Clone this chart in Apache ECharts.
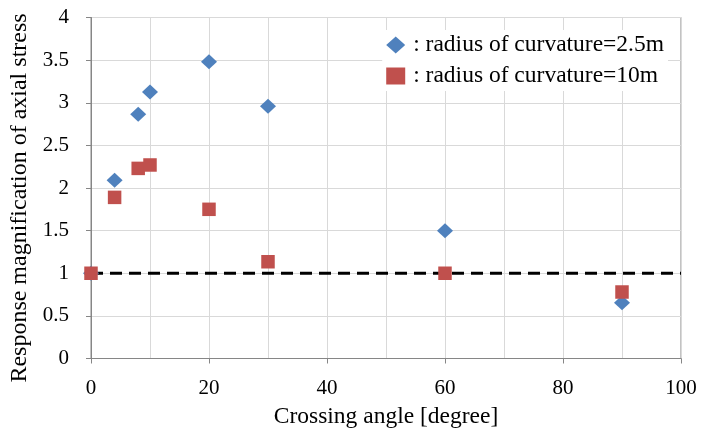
<!DOCTYPE html>
<html><head><meta charset="utf-8">
<script src="https://cdn.jsdelivr.net/npm/echarts@6/dist/echarts.min.js"></script>
<style>html,body{margin:0;padding:0;background:#fff}#c{width:701px;height:432px}</style>
</head><body><div id="c"></div>
<script>
const angles = [0, 4, 8, 10, 20, 30, 60, 90];
const r25 = [1.0, 2.09, 2.865, 3.125, 3.48, 2.96, 1.5, 0.655];
const r10 = [1.0, 1.89, 2.23, 2.27, 1.75, 1.135, 1.0, 0.78];
const refX = [0, 100];
const refY = [1, 1];
const name25 = ': radius of curvature=2.5m';
const name10 = ': radius of curvature=10m';
const font = 'Liberation Serif';
const chart = echarts.init(document.getElementById('c'));
chart.setOption({
  animation: false,
  backgroundColor: '#fff',
  grid: {left: 91, right: 20, top: 17.5, bottom: 73.5, show: true, borderColor: '#868686', borderWidth: 1,
         containLabel: false, outerBoundsMode: 'none'},
  xAxis: {
    type: 'value', min: 0, max: 100, interval: 20,
    name: 'Crossing angle [degree]', nameLocation: 'middle', nameGap: 46,
    nameTextStyle: {fontFamily: font, fontSize: 23.5, color: '#000'},
    axisLine: {lineStyle: {color: '#868686'}},
    axisTick: {show: true, length: 5, lineStyle: {color: '#868686'}},
    axisLabel: {fontFamily: font, fontSize: 21, color: '#000', margin: 19},
    splitLine: {show: true, lineStyle: {color: '#d9d9d9'}},
    minorTick: {show: false, splitNumber: 2},
    minorSplitLine: {show: true, lineStyle: {color: '#d9d9d9'}}
  },
  yAxis: {
    type: 'value', min: 0, max: 4, interval: 0.5,
    name: 'Response magnification of axial stress', nameLocation: 'middle', nameGap: 59,
    nameTextStyle: {fontFamily: font, fontSize: 24, color: '#000', padding: [0, 20, 0, 0]},
    axisLine: {show: true, lineStyle: {color: '#868686'}},
    axisTick: {show: true, length: 5, lineStyle: {color: '#868686'}},
    axisLabel: {fontFamily: font, fontSize: 21, color: '#000', margin: 22},
    splitLine: {show: true, lineStyle: {color: '#d9d9d9'}}
  },
  legend: {
    right: 33, top: 30, orient: 'vertical', itemGap: 7,
    backgroundColor: '#fff', padding: [3, 4, 3, 4],
    itemWidth: 19, itemHeight: 17,
    textStyle: {fontFamily: font, fontSize: 23.5, color: '#000', padding: [0, 0, 0, 3]},
    data: [{name: name25, icon: 'diamond'}, {name: name10, icon: 'rect'}]
  },
  series: [
    {type: 'line', data: refX.map((x, i) => [x, refY[i]]), symbol: 'none', silent: true,
     lineStyle: {color: '#000', width: 3, type: [12, 7]}, z: 1},
    {name: name25, type: 'scatter', data: angles.map((x, i) => [x, r25[i]]), symbol: 'diamond', symbolSize: [16, 15],
     itemStyle: {color: '#4f81bd', opacity: 1}, z: 2},
    {name: name10, type: 'scatter', data: angles.map((x, i) => [x, r10[i]]), symbol: 'rect', symbolSize: 13.5,
     itemStyle: {color: '#c0504d', opacity: 1}, z: 3}
  ]
});
</script></body></html>
